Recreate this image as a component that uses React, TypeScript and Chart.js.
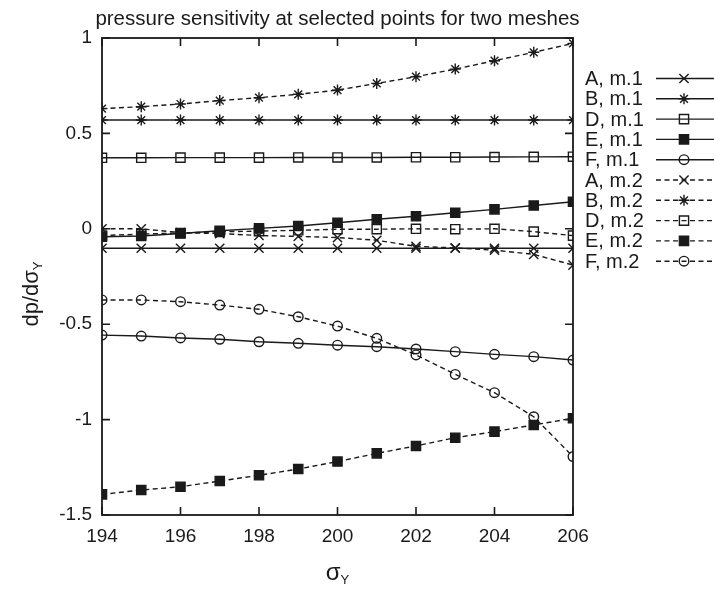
import React, { useEffect, useRef } from 'react';
import { Chart, registerables } from 'chart.js';

Chart.register(...registerables);

// ---- data ----
const sigmaY = [194, 195, 196, 197, 198, 199, 200, 201, 202, 203, 204, 205, 206];

const A_m1 = [-0.102, -0.102, -0.102, -0.102, -0.102, -0.102, -0.102, -0.102, -0.102, -0.102, -0.102, -0.102, -0.102];
const B_m1 = [0.57, 0.57, 0.57, 0.57, 0.57, 0.57, 0.57, 0.57, 0.57, 0.57, 0.57, 0.57, 0.57];
const D_m1 = [0.372, 0.372, 0.373, 0.373, 0.373, 0.374, 0.374, 0.374, 0.375, 0.375, 0.376, 0.377, 0.378];
const E_m1 = [-0.042, -0.038, -0.025, -0.01, 0.002, 0.015, 0.032, 0.05, 0.066, 0.084, 0.102, 0.122, 0.142];
const F_m1 = [-0.557, -0.562, -0.572, -0.579, -0.592, -0.6, -0.61, -0.618, -0.63, -0.644, -0.658, -0.67, -0.688];
const A_m2 = [0.0, 0.0, -0.02, -0.025, -0.035, -0.04, -0.046, -0.06, -0.092, -0.1, -0.112, -0.134, -0.19];
const B_m2 = [0.63, 0.64, 0.654, 0.672, 0.687, 0.705, 0.727, 0.762, 0.797, 0.837, 0.881, 0.925, 0.972];
const D_m2 = [-0.035, -0.028, -0.022, -0.016, -0.012, -0.008, -0.002, -0.002, 0.0, -0.002, 0.0, -0.015, -0.036];
const E_m2 = [-1.392, -1.369, -1.352, -1.322, -1.292, -1.259, -1.22, -1.177, -1.138, -1.095, -1.063, -1.028, -0.993];
const F_m2 = [-0.373, -0.373, -0.382, -0.4, -0.422, -0.461, -0.51, -0.574, -0.661, -0.763, -0.859, -0.985, -1.194];

const seriesLabels = ['A, m.1', 'B, m.1', 'D, m.1', 'E, m.1', 'F, m.1', 'A, m.2', 'B, m.2', 'D, m.2', 'E, m.2', 'F, m.2'];
const seriesValues = [A_m1, B_m1, D_m1, E_m1, F_m1, A_m2, B_m2, D_m2, E_m2, F_m2];

const xTickValues = [194, 196, 198, 200, 202, 204, 206];
const yTickValues = [1, 0.5, 0, -0.5, -1, -1.5];

const titleText = 'pressure sensitivity at selected points for two meshes';
const yTitleMain = 'dp/dσ';
const yTitleSub = 'Y';
const xTitleMain = 'σ';
const xTitleSub = 'Y';

// ---- styles ----
const INK = '#1a1a1a';
const FONT = '"Liberation Sans", Arial, Helvetica, sans-serif';

type Marker = { style: string; radius: number; filled: boolean };
const markerFor = (label: string): Marker => {
  const k = label[0];
  if (k === 'A') return { style: 'crossRot', radius: 6.5, filled: false };
  if (k === 'B') return { style: 'star', radius: 5.5, filled: false };
  if (k === 'D') return { style: 'rect', radius: 6.5, filled: false };
  if (k === 'E') return { style: 'rect', radius: 6.5, filled: true };
  return { style: 'circle', radius: 4.8, filled: false };
};

function drawMarker(ctx: CanvasRenderingContext2D, m: Marker, x: number, y: number) {
  const r = m.radius;
  ctx.save();
  ctx.setLineDash([]);
  ctx.strokeStyle = INK;
  ctx.fillStyle = INK;
  ctx.lineWidth = 1.4;
  ctx.beginPath();
  if (m.style === 'crossRot' || m.style === 'star') {
    const d = Math.cos(Math.PI / 4) * r;
    ctx.moveTo(x - d, y - d); ctx.lineTo(x + d, y + d);
    ctx.moveTo(x - d, y + d); ctx.lineTo(x + d, y - d);
    if (m.style === 'star') {
      ctx.moveTo(x - r, y); ctx.lineTo(x + r, y);
      ctx.moveTo(x, y - r); ctx.lineTo(x, y + r);
    }
    ctx.stroke();
  } else if (m.style === 'rect') {
    const s = r / Math.SQRT2;
    ctx.rect(x - s, y - s, 2 * s, 2 * s);
    if (m.filled) ctx.fill();
    ctx.stroke();
  } else {
    ctx.arc(x, y, r, 0, Math.PI * 2);
    ctx.stroke();
  }
  ctx.restore();
}

const framePlugin = {
  id: 'gnuplotFrame',
  afterDraw(chart: any) {
    const ctx: CanvasRenderingContext2D = chart.ctx;
    const { left, right, top, bottom } = chart.chartArea;
    const xs = chart.scales.x;
    const ys = chart.scales.y;
    ctx.save();
    // border
    ctx.strokeStyle = INK;
    ctx.lineWidth = 1.8;
    ctx.setLineDash([]);
    ctx.strokeRect(left, top, right - left, bottom - top);
    // inward ticks
    const tl = 8;
    ctx.lineWidth = 1.6;
    ctx.beginPath();
    xTickValues.forEach((v) => {
      const px = xs.getPixelForValue(v);
      ctx.moveTo(px, bottom); ctx.lineTo(px, bottom - tl);
      ctx.moveTo(px, top); ctx.lineTo(px, top + tl);
    });
    yTickValues.forEach((v) => {
      const py = ys.getPixelForValue(v);
      ctx.moveTo(left, py); ctx.lineTo(left + tl, py);
      ctx.moveTo(right, py); ctx.lineTo(right - tl, py);
    });
    ctx.stroke();

    // title
    ctx.fillStyle = INK;
    ctx.font = `20.5px ${FONT}`;
    ctx.textAlign = 'center';
    ctx.textBaseline = 'middle';
    ctx.fillText(titleText, (left + right) / 2, 19);

    // x axis title with subscript
    ctx.textAlign = 'left';
    ctx.textBaseline = 'alphabetic';
    ctx.font = `24px ${FONT}`;
    const wMain = ctx.measureText(xTitleMain).width;
    ctx.font = `13px ${FONT}`;
    const wSub = ctx.measureText(xTitleSub).width;
    const xStart = (left + right) / 2 - (wMain + wSub) / 2;
    ctx.font = `24px ${FONT}`;
    ctx.fillText(xTitleMain, xStart, 580);
    ctx.font = `13px ${FONT}`;
    ctx.fillText(xTitleSub, xStart + wMain, 584);

    // y axis title with subscript (rotated)
    ctx.save();
    ctx.translate(38, 294);
    ctx.rotate(-Math.PI / 2);
    ctx.font = `22px ${FONT}`;
    const yMainW = ctx.measureText(yTitleMain).width;
    ctx.font = `13px ${FONT}`;
    const ySubW = ctx.measureText(yTitleSub).width;
    const ys0 = -(yMainW + ySubW) / 2;
    ctx.font = `22px ${FONT}`;
    ctx.fillText(yTitleMain, ys0, 0);
    ctx.font = `13px ${FONT}`;
    ctx.fillText(yTitleSub, ys0 + yMainW, 4);
    ctx.restore();

    // legend
    ctx.font = `20px ${FONT}`;
    ctx.textAlign = 'left';
    ctx.textBaseline = 'middle';
    chart.data.datasets.forEach((ds: any, i: number) => {
      const y = 78.5 + i * 20.3;
      ctx.fillStyle = INK;
      ctx.fillText(ds.label, 585, y + 1);
      ctx.save();
      ctx.strokeStyle = INK;
      ctx.lineWidth = 1.4;
      ctx.setLineDash(ds.borderDash || []);
      ctx.beginPath();
      ctx.moveTo(656, y);
      ctx.lineTo(716, y);
      ctx.stroke();
      ctx.restore();
      drawMarker(ctx, markerFor(ds.label), 684, y);
    });
    ctx.restore();
  },
};

export default function App() {
  const ref = useRef<HTMLCanvasElement | null>(null);
  useEffect(() => {
    if (!ref.current) return;
    const datasets = seriesLabels.map((label, i) => {
      const m = markerFor(label);
      const dashed = label.endsWith('m.2');
      return {
        label,
        data: sigmaY.map((x, j) => ({ x, y: seriesValues[i][j] })),
        borderColor: INK,
        borderWidth: 1.4,
        borderDash: dashed ? [5, 3.5] : [],
        pointStyle: m.style,
        pointRadius: m.radius,
        pointBorderWidth: 1.4,
        pointBorderColor: INK,
        pointBackgroundColor: m.filled ? INK : 'rgba(0,0,0,0)',
        fill: false,
        tension: 0,
      };
    });
    const chart = new Chart(ref.current, {
      type: 'line',
      data: { datasets },
      plugins: [framePlugin],
      options: {
        responsive: false,
        animation: false,
        devicePixelRatio: 1,
        layout: { padding: { left: 42, right: 141, top: 38, bottom: 28 } },
        plugins: { legend: { display: false }, tooltip: { enabled: false }, title: { display: false } },
        scales: {
          x: {
            type: 'linear',
            min: 194,
            max: 206,
            afterFit: (s: any) => { s.height = 50; },
            afterBuildTicks: (s: any) => { s.ticks = xTickValues.map((v) => ({ value: v })); },
            grid: { display: false, drawTicks: false },
            border: { display: false },
            ticks: { color: INK, font: { family: FONT, size: 19 }, padding: 10, maxRotation: 0, autoSkip: false },
          },
          y: {
            type: 'linear',
            min: -1.5,
            max: 1,
            afterFit: (s: any) => { s.width = 60; },
            afterBuildTicks: (s: any) => { s.ticks = yTickValues.map((v) => ({ value: v })); },
            grid: { display: false, drawTicks: false },
            border: { display: false },
            ticks: { color: INK, font: { family: FONT, size: 19 }, padding: 10, callback: (v: any) => String(v) },
          },
        },
      } as any,
    });
    return () => chart.destroy();
  }, []);
  return (
    <div style={{ position: 'absolute', left: 0, top: 0, width: 714, height: 593, background: '#fff' }}>
      <canvas ref={ref} width={714} height={593} style={{ width: 714, height: 593, display: 'block' }} />
    </div>
  );
}
